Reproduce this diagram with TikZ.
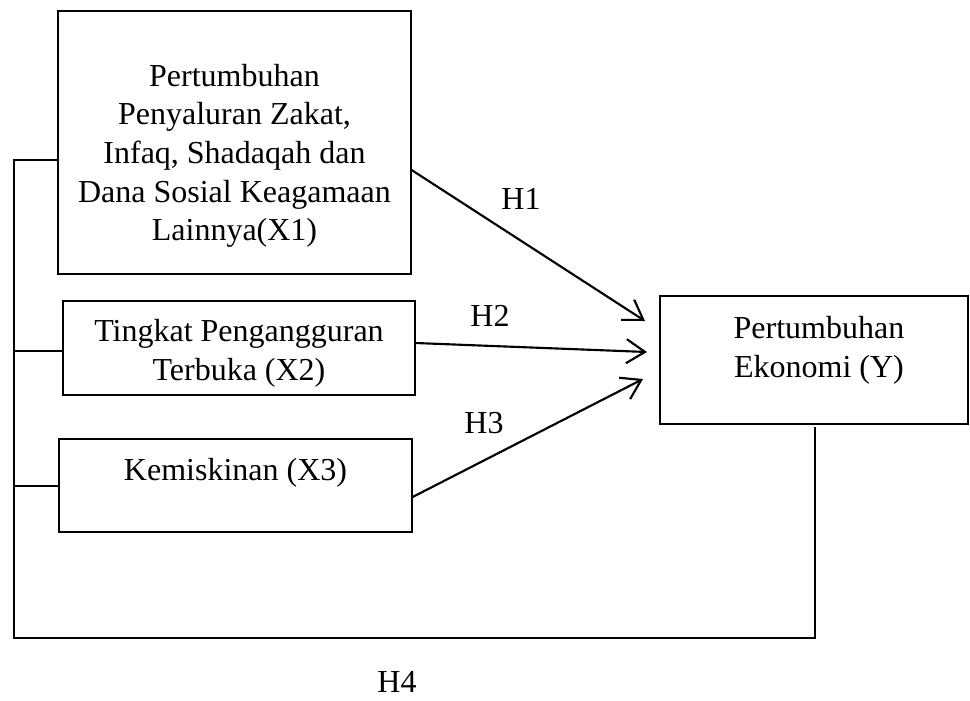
\documentclass[tikz,border=0pt]{standalone}
\usepackage{fontspec}
\setmainfont{Liberation Serif}
\usetikzlibrary{arrows.meta}
\begin{document}
\begin{tikzpicture}[x=0.375pt,y=-0.375pt,
  box/.style={draw, line width=0.45pt, inner sep=0pt},
  txt/.style={align=center, inner sep=0pt, font=\fontsize{12pt}{14.5pt}\selectfont},
  arr/.style={line width=0.8pt, -{Straight Barb[length=7pt,width=9pt,line width=0.8pt]}},
  link/.style={line width=0.45pt}]
\useasboundingbox (0,0) rectangle (970,700);
% boxes
\node[box, minimum width=353*0.375pt, minimum height=263*0.375pt] (x1) at (234.5,142.5) {};
\node[txt] (t1) at (234.5,156) {Pertumbuhan\\Penyaluran Zakat,\\Infaq, Shadaqah dan\\Dana Sosial Keagamaan\\Lainnya(X1)};
\node[box, minimum width=352*0.375pt, minimum height=94*0.375pt] (x2) at (239,348) {};
\node[txt] (t2) at (239,353) {Tingkat Pengangguran\\Terbuka (X2)};
\node[box, minimum width=353*0.375pt, minimum height=93*0.375pt] (x3) at (235.5,485.5) {};
\node[txt] (t3) at (235.5,473) {Kemiskinan (X3)};
\node[box, minimum width=308*0.375pt, minimum height=128*0.375pt] (y) at (814,360) {};
\node[txt] (ty) at (819,350) {Pertumbuhan\\Ekonomi (Y)};
% arrow targets
\coordinate (e1) at (645,321);
\coordinate (e2) at (647,352);
\coordinate (e3) at (643,379);
\draw[arr] (x1.east |- 0,170) -- (e1);
\draw[arr] (x2.east |- 0,343) -- (e2);
\draw[arr] (x3.east |- 0,497) -- (e3);
% labels
\node[txt] (h1) at (521,199) {H1};
\node[txt] (h2) at (490,316) {H2};
\node[txt] (h3) at (484,423) {H3};
\node[txt] (h4) at (397,682) {H4};
% H4 frame
\coordinate (c1) at (815,427);
\coordinate (c2) at (815,638);
\coordinate (c3) at (14,638);
\coordinate (c4) at (14,160);
\draw[link] (c1) -- (c2) -- (c3) -- (c4) -- (x1.west |- c4);
\draw[link] (14,351) -- (x2.west |- 0,351);
\draw[link] (14,486) -- (x3.west |- 0,486);
\end{tikzpicture}
\end{document}
